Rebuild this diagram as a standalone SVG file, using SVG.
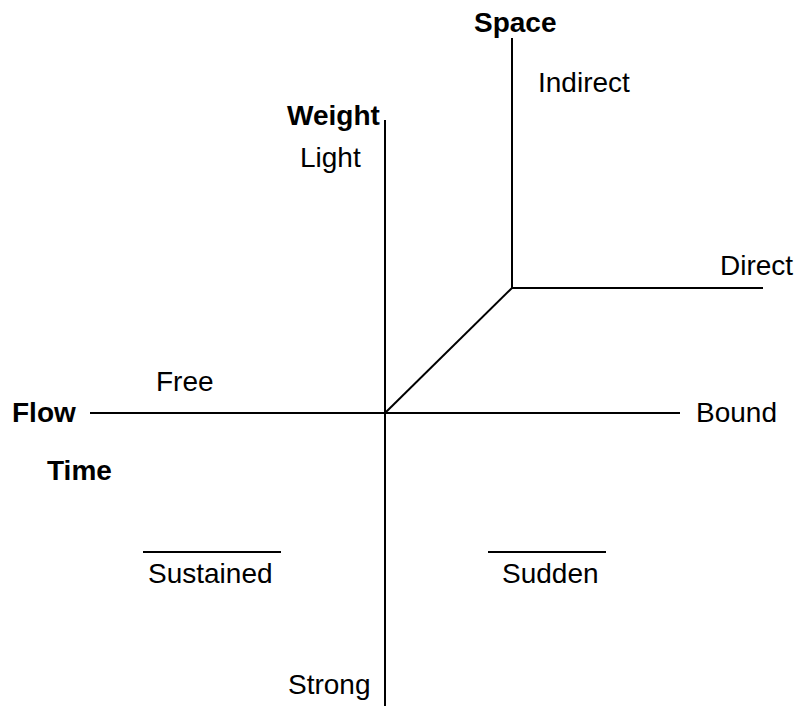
<svg xmlns="http://www.w3.org/2000/svg" width="799" height="706" viewBox="0 0 799 706">
<style>
text{font-family:"Liberation Sans",Arial,Helvetica,sans-serif;font-size:28px;fill:#000}
.b{font-weight:bold}
line{stroke:#000;stroke-width:2;fill:none}
</style>
<rect width="799" height="706" fill="#fff"/>
<g id="connectors">
<line x1="385" y1="120" x2="385" y2="706"/>
<line x1="90" y1="413" x2="680" y2="413"/>
<line x1="385" y1="413" x2="512" y2="288"/>
<line x1="512" y1="38" x2="512" y2="288"/>
<line x1="512" y1="288" x2="763" y2="288"/>
<line x1="143" y1="552" x2="281" y2="552"/>
<line x1="488" y1="552" x2="606" y2="552"/>
</g>
<g id="space"><text class="b" x="474" y="32">Space</text></g>
<g id="indirect"><text x="538" y="92">Indirect</text></g>
<g id="weight"><text class="b" x="287" y="125">Weight</text></g>
<g id="light"><text x="300" y="167">Light</text></g>
<g id="direct"><text x="720" y="275">Direct</text></g>
<g id="free"><text x="156" y="391">Free</text></g>
<g id="flow"><text class="b" x="12" y="422">Flow</text></g>
<g id="bound"><text x="696" y="422">Bound</text></g>
<g id="time"><text class="b" x="47" y="480">Time</text></g>
<g id="sustained"><text x="148" y="583">Sustained</text></g>
<g id="sudden"><text x="502" y="583">Sudden</text></g>
<g id="strong"><text x="288" y="694">Strong</text></g>
</svg>
